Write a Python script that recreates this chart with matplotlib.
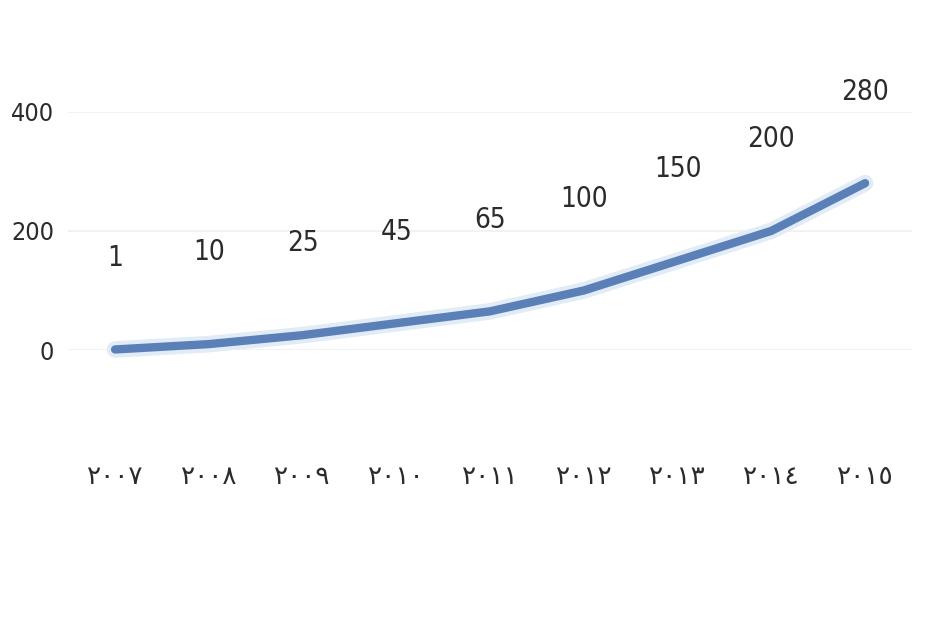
import matplotlib.pyplot as plt

years = ['٢٠٠٧', '٢٠٠٨', '٢٠٠٩', '٢٠١٠', '٢٠١١', '٢٠١٢', '٢٠١٣', '٢٠١٤', '٢٠١٥']
values = [1, 10, 25, 45, 65, 100, 150, 200, 280]
yticks = [0, 200, 400]

plt.rcParams['font.family'] = ['DejaVu Sans']

fig = plt.figure(figsize=(9.47, 6.24), dpi=100)
ax = fig.add_axes([0.072, 0.439, 0.891, 0.382])

x = list(range(len(values)))
# soft halo under the line, then the line itself
ax.plot(x, values, color='#e2ecf7', lw=12, solid_capstyle='round', zorder=2, clip_on=False)
ax.plot(x, values, color='#5b80b7', lw=6, solid_capstyle='round', zorder=3, clip_on=False)

for xi, v in zip(x, values):
    ax.annotate(str(v), (xi, v), xytext=(0, 66), textcoords='offset points',
                ha='center', va='center', fontsize=20, fontstretch='condensed',
                color='#2b2b2b')

ax.set_xlim(-0.5, len(values) - 0.5)
ax.set_ylim(0, 400)
ax.set_yticks(yticks)
ax.set_xticks(x)
ax.set_xticklabels(years, fontsize=19, color='#2b2b2b')
ax.tick_params(axis='x', length=0, pad=82)
ax.tick_params(axis='y', length=0, pad=10, labelcolor='#2b2b2b')
for lbl in ax.get_yticklabels():
    lbl.set_fontsize(18)
    lbl.set_fontstretch('condensed')
ax.grid(axis='y', color='#f0f0f0', lw=1.2)
ax.set_axisbelow(True)
for s in ax.spines.values():
    s.set_visible(False)

fig.savefig('out.png', dpi=100, facecolor='white')
